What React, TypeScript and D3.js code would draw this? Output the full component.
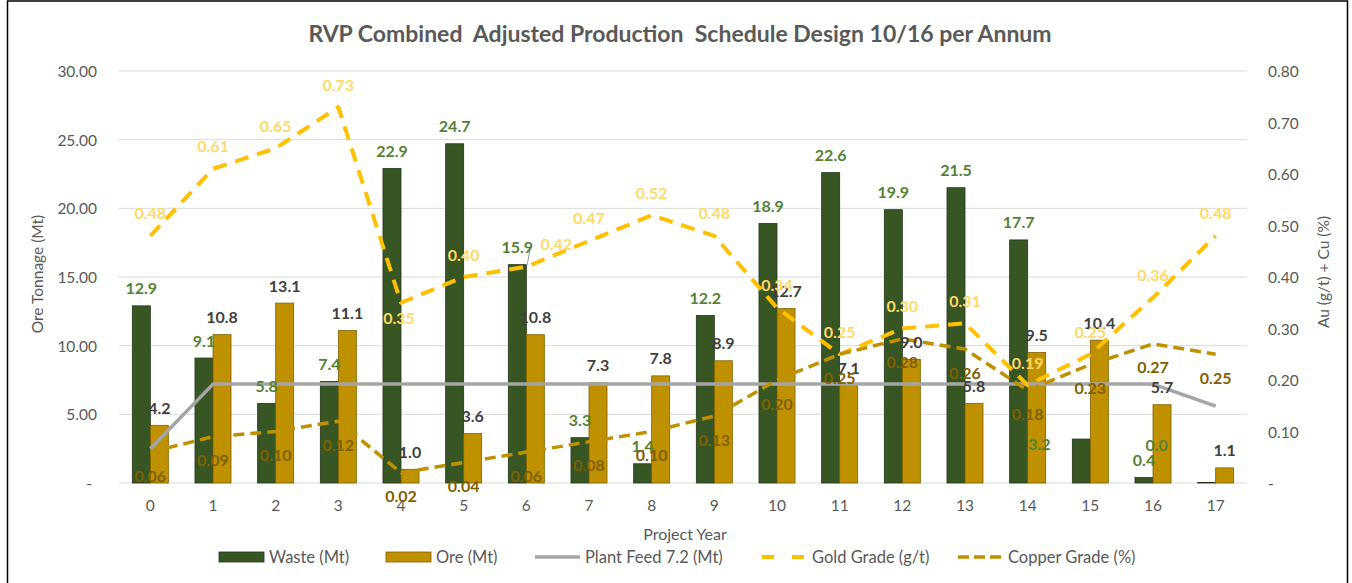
import React from "react";
import * as d3 from "d3";

const years = ["0", "1", "2", "3", "4", "5", "6", "7", "8", "9", "10", "11", "12", "13", "14", "15", "16", "17"];
const waste = [12.9, 9.1, 5.8, 7.4, 22.9, 24.7, 15.9, 3.3, 1.4, 12.2, 18.9, 22.6, 19.9, 21.5, 17.7, 3.2, 0.4, 0.04];
const ore = [4.2, 10.8, 13.1, 11.1, 1.0, 3.6, 10.8, 7.3, 7.8, 8.9, 12.7, 7.1, 9.0, 5.8, 9.5, 10.4, 5.7, 1.1];
const plantFeed = [2.5, 7.2, 7.2, 7.2, 7.2, 7.2, 7.2, 7.2, 7.2, 7.2, 7.2, 7.2, 7.2, 7.2, 7.2, 7.2, 7.2, 5.6];
const goldGrade = [0.48, 0.61, 0.65, 0.73, 0.35, 0.4, 0.42, 0.47, 0.52, 0.48, 0.34, 0.25, 0.3, 0.31, 0.19, 0.25, 0.36, 0.48];
const copperGrade = [0.06, 0.09, 0.1, 0.12, 0.02, 0.04, 0.06, 0.08, 0.1, 0.13, 0.2, 0.25, 0.28, 0.26, 0.18, 0.23, 0.27, 0.25];
const leftTicks = [0, 5, 10, 15, 20, 25, 30];
const rightTicks = [0, 0.1, 0.2, 0.3, 0.4, 0.5, 0.6, 0.7, 0.8];

const title = "RVP Combined  Adjusted Production  Schedule Design 10/16 per Annum";
const leftTitle = "Ore Tonnage (Mt)";
const rightTitle = "Au (g/t) + Cu (%)";
const xTitle = "Project Year";
const legendNames = ["Waste (Mt)", "Ore (Mt)", "Plant Feed 7.2 (Mt)", "Gold Grade (g/t)", "Copper Grade (%)"];

// label nudges (layout only)
const wasteNudge: Record<number, [number, number]> = { 15: [-42, 22], 17: [-50, -20] };
const goldNudge: Record<number, [number, number]> = { 4: [-2, 38], 6: [30, 0] };

const FONT = "Lato, 'Open Sans', sans-serif";
const C = {
  waste: "#375623",
  wasteStroke: "#22361a",
  wasteLabel: "#548235",
  ore: "#BF9000",
  oreStroke: "#7F6000",
  oreLabel: "#404040",
  feed: "#A5A5A5",
  gold: "#FFC000",
  goldLabel: "#FFD966",
  copper: "#BF9000",
  copperLabel: "#7F6000",
  grid: "#D9D9D9",
  text: "#595959",
};

export default function App() {
  const M = { left: 119, right: 1247, top: 71, bottom: 483 };
  const x = d3.scaleBand<string>().domain(years).range([M.left, M.right]).padding(0);
  const step = x.bandwidth();
  const barW = step * 0.2875;
  const cx = (i: number) => (x(years[i]) as number) + step / 2;
  const yL = d3.scaleLinear().domain([0, 30]).range([M.bottom, M.top]);
  const yR = d3.scaleLinear().domain([0, 0.8]).range([M.bottom, M.top]);
  const lineL = d3.line<number>().x((_, i) => cx(i)).y((d) => yL(d));
  const lineR = d3.line<number>().x((_, i) => cx(i)).y((d) => yR(d));

  const legendX = [219, 386, 535, 762, 958];
  const legY = 557;

  return (
    <div style={{ position: "absolute", left: 0, top: 0 }}>
      <svg width={1352} height={583} style={{ display: "block", fontFamily: FONT }}>
        <rect x={0} y={0} width={1352} height={583} fill="#fff" />
        <rect x={7.5} y={1} width={1340} height={600} fill="none" stroke="#000" strokeWidth={1.5} />

        {/* title */}
        <text x={680} y={42} textAnchor="middle" fontSize={23} fontWeight={700} fill={C.text} style={{ whiteSpace: "pre" }}>
          {title}
        </text>

        {/* gridlines */}
        {leftTicks.map((t) => (
          <line key={"g" + t} x1={M.left} x2={M.right} y1={yL(t)} y2={yL(t)} stroke={C.grid} strokeWidth={1} />
        ))}

        {/* left ticks */}
        {leftTicks.map((t) => (
          <text key={"l" + t} x={t === 0 ? 92 : 97} y={yL(t)} dominantBaseline="central" textAnchor="end" fontSize={15.5} fill={C.text}>
            {t === 0 ? "-" : t.toFixed(2)}
          </text>
        ))}
        {/* right ticks */}
        {rightTicks.map((t) => (
          <text key={"r" + t} x={1268} y={yR(t)} dominantBaseline="central" textAnchor="start" fontSize={15.5} fill={C.text}>
            {t === 0 ? "-" : t.toFixed(2)}
          </text>
        ))}

        {/* axis titles */}
        <text transform={`translate(37,274) rotate(-90)`} textAnchor="middle" dominantBaseline="central" fontSize={15.5} fill={C.text}>
          {leftTitle}
        </text>
        <text transform={`translate(1323,272) rotate(-90)`} textAnchor="middle" dominantBaseline="central" fontSize={15.5} fill={C.text}>
          {rightTitle}
        </text>

        {/* x labels */}
        {years.map((yv, i) => (
          <text key={"x" + yv} x={cx(i)} y={505} textAnchor="middle" dominantBaseline="central" fontSize={15.5} fill={C.text}>
            {yv}
          </text>
        ))}
        <text x={685} y={533} textAnchor="middle" dominantBaseline="central" fontSize={16} fill={C.text}>
          {xTitle}
        </text>

        {/* bars */}
        {waste.map((v, i) => (
          <rect key={"w" + i} x={cx(i) - barW} y={yL(v)} width={barW} height={yL(0) - yL(v)} fill={C.waste} stroke={C.wasteStroke} strokeWidth={0.8} />
        ))}
        {ore.map((v, i) => (
          <rect key={"o" + i} x={cx(i)} y={yL(v)} width={barW} height={yL(0) - yL(v)} fill={C.ore} stroke={C.oreStroke} strokeWidth={0.8} />
        ))}

        {/* lines */}
        <path d={lineL(plantFeed) || ""} fill="none" stroke={C.feed} strokeWidth={3.5} strokeLinejoin="round" />
        <path d={lineR(goldGrade) || ""} fill="none" stroke={C.gold} strokeWidth={4} strokeDasharray="14 9" strokeLinejoin="round" />
        <path d={lineR(copperGrade) || ""} fill="none" stroke={C.copper} strokeWidth={3.5} strokeDasharray="11 6" strokeLinejoin="round" />

        {/* leader for year 6 waste label */}
        <line x1={cx(6) - barW / 2 + 13} y1={yL(waste[6]) - 18} x2={cx(6) - barW / 2 + 10} y2={yL(waste[6])} stroke="#808080" strokeWidth={0.8} />

        {/* waste labels */}
        {waste.map((v, i) => {
          const n = wasteNudge[i] || [0, 0];
          return (
            <text key={"wl" + i} x={cx(i) - barW / 2 + n[0]} y={yL(v) - 18 + n[1]} textAnchor="middle" dominantBaseline="central" fontSize={16} fontWeight={700} fill={C.wasteLabel}>
              {v.toFixed(1)}
            </text>
          );
        })}
        {/* ore labels */}
        {ore.map((v, i) => (
          <text key={"ol" + i} x={cx(i) + barW / 2} y={yL(v) - 18} textAnchor="middle" dominantBaseline="central" fontSize={16} fontWeight={700} fill={C.oreLabel}>
            {v.toFixed(1)}
          </text>
        ))}
        {/* gold labels */}
        {goldGrade.map((v, i) => {
          const n = goldNudge[i] || [0, 0];
          return (
            <text key={"gl" + i} x={cx(i) + n[0]} y={yR(v) - 23 + n[1]} textAnchor="middle" dominantBaseline="central" fontSize={16} fontWeight={700} fill={C.goldLabel}>
              {v.toFixed(2)}
            </text>
          );
        })}
        {/* copper labels */}
        {copperGrade.map((v, i) => (
          <text key={"cl" + i} x={cx(i)} y={yR(v) + 23} textAnchor="middle" dominantBaseline="central" fontSize={16} fontWeight={700} fill={C.copperLabel}>
            {v.toFixed(2)}
          </text>
        ))}

        {/* legend */}
        <rect x={legendX[0]} y={legY - 5} width={45} height={10} fill={C.waste} stroke={C.wasteStroke} strokeWidth={0.8} />
        <rect x={legendX[1]} y={legY - 5} width={45} height={10} fill={C.ore} stroke={C.oreStroke} strokeWidth={0.8} />
        <line x1={legendX[2]} x2={legendX[2] + 45} y1={legY} y2={legY} stroke={C.feed} strokeWidth={3.5} />
        <line x1={legendX[3]} x2={legendX[3] + 45} y1={legY} y2={legY} stroke={C.gold} strokeWidth={4} strokeDasharray="12 18" />
        <line x1={legendX[4]} x2={legendX[4] + 45} y1={legY} y2={legY} stroke={C.copper} strokeWidth={3.5} strokeDasharray="11 5" />
        {legendNames.map((n, i) => (
          <text key={"lg" + i} x={legendX[i] + 50} y={legY} dominantBaseline="central" fontSize={16.5} fill={C.text}>
            {n}
          </text>
        ))}
      </svg>
    </div>
  );
}
